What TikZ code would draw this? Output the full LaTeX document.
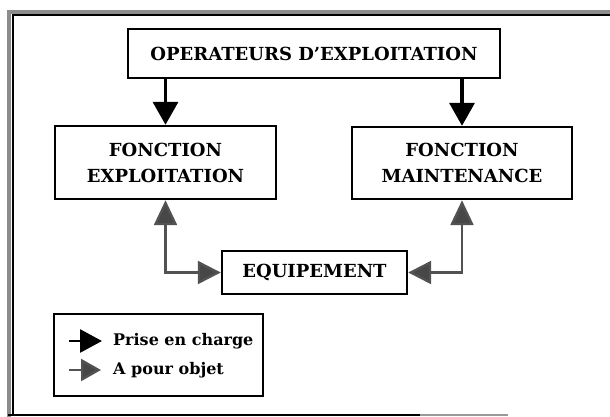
\documentclass[tikz,border=0pt]{standalone}
\usepackage{fontspec}
\setmainfont{DejaVu Serif}
\usetikzlibrary{arrows.meta}
\begin{document}
\begin{tikzpicture}[x=1pt,y=-1pt,
  box/.style={draw=black,line width=2.4pt,inner sep=0pt,align=center,
    font=\bfseries\fontsize{18}{26}\selectfont},
  blk/.style={line width=3.6pt,-{Triangle[length=23pt,width=25pt]}},
  gry/.style={draw=black!68,line width=2.4pt,
    {Triangle[length=25pt,width=23pt,fill=black!72]}-{Triangle[length=23pt,width=23pt,fill=black!72]}},
  lgblk/.style={line width=2.8pt,-{Triangle[length=22pt,width=23pt]}},
  lggry/.style={draw=black!68,line width=2.4pt,-{Triangle[length=20pt,width=22pt,fill=black!72]}},
  lgtxt/.style={anchor=west,inner sep=0pt,font=\bfseries\fontsize{16}{20}\selectfont}]
\useasboundingbox (0,0) rectangle (610,417);
% outer frame
\draw[black!45,line width=4pt] (9,417) -- (9,12) -- (610,12);
\draw[black,line width=1.5pt] (13,415) -- (13,15) -- (610,15);
\draw[black,line width=1.5pt] (8,415) -- (420,415);
\draw[black!40,line width=1.5pt] (420,415) -- (508,415);
% boxes
\node[box,minimum width=372pt,minimum height=49pt] (ope) at (314,53.5) {OPERATEURS D'EXPLOITATION};
\node[box,minimum width=221pt,minimum height=73pt] (expl) at (165.5,162.5) {FONCTION\\EXPLOITATION};
\node[box,minimum width=220pt,minimum height=72pt] (maint) at (462,163) {FONCTION\\MAINTENANCE};
\node[box,minimum width=185pt,minimum height=43pt] (equip) at (314.5,272.5) {EQUIPEMENT};
\node[box,minimum width=209pt,minimum height=82pt] (leg) at (158.5,355) {};
% arrows
\draw[blk] (ope.south -| expl.north) -- (expl.north);
\draw[blk] (ope.south -| maint.north) -- (maint.north);
\draw[gry] (expl.south) |- (equip.west);
\draw[gry] (maint.south) |- (equip.east);
% legend
\coordinate (a1) at (69,341);
\coordinate (b1) at (102,341);
\coordinate (a2) at (69,370);
\coordinate (b2) at (101,370);
\draw[lgblk] (a1) -- (b1);
\draw[lggry] (a2) -- (b2);
\node[lgtxt] (t1) at (113,341) {Prise en charge};
\node[lgtxt] (t2) at (113,370) {A pour objet};
\end{tikzpicture}
\end{document}
